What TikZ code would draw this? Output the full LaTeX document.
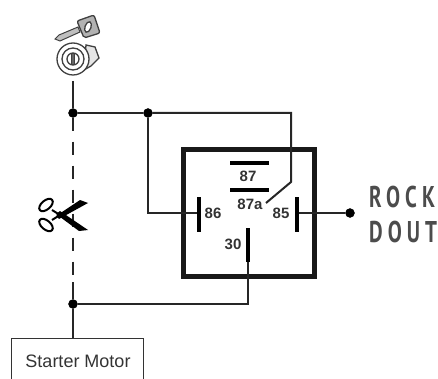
\documentclass[tikz,border=0pt]{standalone}
\usepackage{fontspec}
\setmainfont{Liberation Sans}
\newfontfamily\rockfont[LetterSpace=24]{PT Sans}
\usetikzlibrary{arrows,calc,positioning}

\begin{document}
\begin{tikzpicture}
[
                     x =  1pt,
	                 y = -1pt,
               dot/.style = { draw=black, fill=black, circle, inner sep=0pt, minimum size=9pt },
	          wire/.style = { draw=black!85, line width=2pt },
	           bar/.style = { draw=black, line width=4pt },
	         relay/.style = { draw=black!90, line width=4.4pt, minimum width=131pt, minimum height=127pt, inner sep=0pt },
	           pin/.style = { draw=none, fill=none, inner sep=0pt, font=\bfseries\fontsize{15}{16}\selectfont, text=black!80 },
	       starter/.style = { draw=black!80, line width=1pt, minimum width=132pt, minimum height=50pt, inner sep=0pt },
	          rock/.style = { draw=none, fill=none, inner sep=0pt, anchor=west, text=black!70, xscale=0.7, font=\rockfont\bfseries\fontsize{30}{32}\selectfont },
	       lockpen/.style = { draw=black!75, line width=1.3pt }
]

	\useasboundingbox (0,0) rectangle (438,379);

	\node (relay) at (249, 213) [relay] {};
	\node (motor) at (77, 363) [starter] {};
	\node (motorl) at (78, 361) [pin, font=\fontsize{18}{20}\selectfont] {Starter Motor};

	\node (j1) at (73 , 113) [dot] {};
	\node (j2) at (148, 113) [dot] {};
	\node (j3) at (73 , 304) [dot] {};
	\node (out) at (350, 213) [dot] {};

	\coordinate (top) at (73, 81);
	\coordinate (c1) at (291, 113);
	\coordinate (c2) at (291, 182);
	\coordinate (c3) at (266, 203);
	\coordinate (c4) at (148, 213);
	\coordinate (c5) at (248, 304);
	\coordinate (d1) at (73, 282);

	\coordinate (p86a) at (199, 197);	\coordinate (p86b) at (199, 232);	\coordinate (p86) at (199, 213);
	\coordinate (p85a) at (297, 197);	\coordinate (p85b) at (297, 232);	\coordinate (p85) at (297, 213);
	\coordinate (p30a) at (248, 228);	\coordinate (p30b) at (248, 262);
	\coordinate (p87a) at (230, 163);	\coordinate (p87b) at (269, 163);
	\coordinate (pa7a) at (230, 190);	\coordinate (pa7b) at (269, 190);

	\node (l87) at (248, 176) [pin] {87};
	\node (l87a) at (250, 204) [pin] {87a};
	\node (l86) at (213, 213) [pin] {86};
	\node (l85) at (281, 213) [pin] {85};
	\node (l30) at (233, 244) [pin] {30};

	\draw[wire] (top) -- (j1);
	\draw[wire] (j1) -- (j2);
	\draw[wire] (j2) -- (c1) -- (c2) -- (c3);
	\draw[wire] (j2) -- (c4) -- (p86);
	\draw[wire] (p85) -- (out);
	\draw[wire] (p30b) -- (c5) -- (j3);
	\draw[wire, dash pattern=on 13pt off 11pt] (j1) -- (d1);
	\draw[wire] (d1) -- (j3);
	\draw[wire] (j3) -- (motor.north -| j3);

	\draw[bar] (p86a) -- (p86b);
	\draw[bar] (p85a) -- (p85b);
	\draw[bar] (p30a) -- (p30b);
	\draw[bar] (p87a) -- (p87b);
	\draw[bar] (pa7a) -- (pa7b);

	\node (rockl) at (369, 197) [rock] {ROCK};
	\node (doutl) at (369, 232) [rock] {DOUT};

	% key
	\draw[lockpen, fill=black!25, line width=1pt] (55,39) -- (59,35) -- (78,27) -- (80,32) -- (60,41) -- cycle;
	\draw[lockpen, fill=black!30, rounded corners=2pt] (77,21) -- (94,15) -- (100,33) -- (84,38) -- cycle;
	\draw[lockpen, fill=white, rotate around={-20:(88,27)}] (88,27) ellipse (3pt and 5.5pt);

	% lock
	\draw[lockpen, fill=black!10] (86,45) -- (95,47) -- (99,58) -- (91,66) -- (84,70) -- cycle;
	\draw[lockpen, fill=white] (73,59) circle (16pt);
	\draw[lockpen, fill=white] (73,59) circle (11pt);
	\draw[lockpen] (73,59) circle (6pt);
	\draw[lockpen, fill=black!60, line width=.6pt] (71.5,53.5) rectangle (74.5,64.5);

	% scissors
	\draw[black, line width=2pt, rotate around={40:(46,205)}] (46,205) ellipse (8pt and 4.5pt);
	\draw[black, line width=2pt, rotate around={-40:(46,225)}] (46,225) ellipse (8pt and 4.5pt);
	\draw[black, line width=2pt] (52,210) -- (60,215);
	\draw[black, line width=2pt] (52,220) -- (60,215);
	\fill[black] (56,216) -- (59,219) -- (88,203) -- (80,200) -- cycle;
	\fill[black] (56,214) -- (60,211) -- (88,230) -- (79,231) -- cycle;

\end{tikzpicture}
\end{document}
